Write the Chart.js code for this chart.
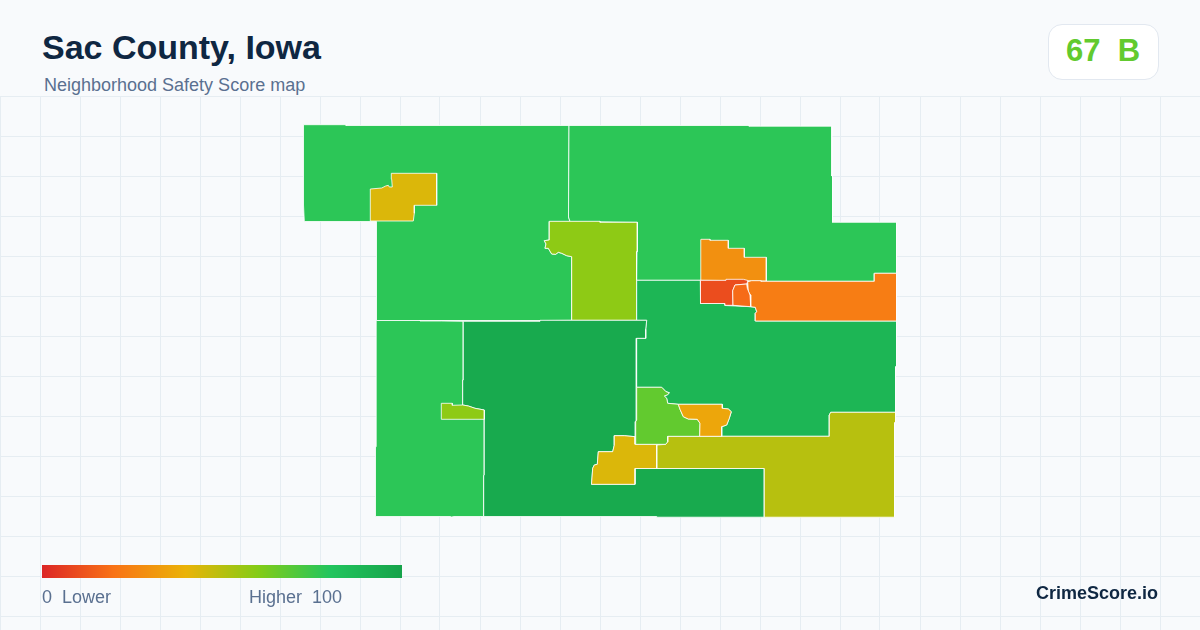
<!DOCTYPE html>
<html>
<head>
<meta charset="utf-8">
<title>Sac County, Iowa</title>
<script src="https://cdn.jsdelivr.net/npm/chart.js@4/dist/chart.umd.min.js"></script>
<style>
  html, body { margin: 0; padding: 0; }
  body { width: 1200px; height: 630px; position: relative; overflow: hidden; background: #f8fafc; font-family: "Liberation Sans", Arial, sans-serif; }
  #map { position: absolute; left: 0; top: 96px; }
  .txt { position: absolute; white-space: pre; line-height: 1; }
  #title { left: 42px; top: 30px; font-size: 34px; font-weight: 700; color: #0f2742; }
  #sub { left: 44px; top: 76px; font-size: 18px; color: #5a7090; }
  #badge { position: absolute; left: 1048px; top: 24px; width: 109px; height: 54px; background: #fff; border: 1px solid #e2e8f0; border-radius: 14px; }
  #score { left: 1066px; top: 35px; font-size: 31px; font-weight: 700; color: #62ca2f; word-spacing: 0; }
  #bar { position: absolute; left: 42px; top: 565px; width: 360px; height: 13px; background: linear-gradient(90deg, #dc2626 0%, #f97316 20%, #eab308 40%, #84cc16 60%, #22c55e 80%, #16a34a 100%); }
  #low { left: 42px; top: 588px; font-size: 18px; color: #5a7090; }
  #high { left: 249px; top: 588px; font-size: 18px; color: #5a7090; }
  #brand { left: 1036px; top: 584px; font-size: 18px; font-weight: 700; color: #0f2742; }
</style>
</head>
<body>
<canvas id="map" width="1200" height="534"></canvas>
<div class="txt" id="title">Sac County, Iowa</div>
<div class="txt" id="sub">Neighborhood Safety Score map</div>
<div id="badge"></div>
<div class="txt" id="score">67  B</div>
<div id="bar"></div>
<div class="txt" id="low">0  Lower</div>
<div class="txt" id="high">Higher  100</div>
<div class="txt" id="brand">CrimeScore.io</div>
<script>
// background grid
const gridX = [0,40,80,120,160,200,240,280,320,360,400,440,480,520,560,600,640,680,720,760,800,840,880,920,960,1000,1040,1080,1120,1160,1200]
const gridY = [96,136,176,216,256,296,336,376,416,456,496,536,576,616]

// legend colours, score -> colour
const scaleStops = [0,20,40,60,80,100]
const scaleColors = [[220,38,38],[249,115,22],[234,179,8],[132,204,22],[34,197,94],[22,163,74]]

// tract outlines, bottom layer first
const northwest = [[303.5,124.7],[346,124.7],[346,125.5],[569,125.5],[568.5,217],[570,221.5],[549.3,221.5],[549.3,240],[544.3,240.7],[546,244],[545,248.3],[548.3,248.3],[551.7,254],[555.7,254.3],[558.3,252.3],[561.7,253.3],[566.7,255.7],[571.7,256.7],[571.7,320.3],[540,320.5],[376.5,320.5],[376.5,221.5],[304.3,221.5],[303.5,205]]
const northeast = [[569,125.5],[749,125.5],[749,126.2],[831.8,126.2],[831.8,176],[832.5,176],[832.5,222.3],[896.5,222.3],[896.5,273.3],[874.3,273.3],[874.3,281.3],[766.5,281.3],[700.3,280.3],[636.7,280.3],[637.3,222.3],[570,221.5],[568.5,217]]
const north = [[549.3,221.3],[600,221.3],[600,222.3],[637.3,222.3],[637.3,251.7],[636.5,251.7],[636.5,320.3],[571.7,320.3],[571.7,256.7],[566.7,255.7],[561.7,253.3],[558.3,252.3],[555.7,254.3],[551.7,254],[548.3,248.3],[545,248.3],[546,244],[544.3,240.7],[549.3,240]]
const northGold = [[370.3,189],[381.7,188],[385.7,186],[388.3,185.3],[389.3,187],[392.3,187],[391.7,179.3],[391.3,173.3],[436.7,173.3],[436.7,205.3],[414.3,205.3],[414.3,213.3],[413.3,221],[370.3,221]]
const east = [[636.7,280.3],[700.3,280.3],[700.5,303.5],[725,303.5],[725,305.5],[750.7,306.7],[755.3,307.3],[756.7,311.7],[755.3,313.3],[755.3,321],[896.5,321],[896.5,366.7],[895.5,366.7],[895.5,412.3],[830.7,412.3],[829.3,415],[829.3,436.3],[721.7,436.3],[721.7,426.7],[726.7,425],[729.3,418.3],[731.3,411.7],[728.3,409],[722.3,408.3],[722.3,404.3],[678.3,404.3],[667.7,403.3],[666.7,398.3],[664.3,396],[667.7,394.7],[669.3,392.7],[666,391.7],[661.7,387.3],[636.7,387.3],[636.7,338.3],[645.7,338.3],[645.7,329.3],[646.7,320.3],[636.7,320.3]]
const west = [[376.2,320.5],[420,320.5],[420,321],[441.7,321],[463.3,321.3],[463.3,380],[462.7,380],[462.7,405],[468.3,406],[475,408.3],[484.3,410],[484.3,475],[483.7,475.7],[483.7,516.5],[454,516.5],[451.7,517],[450,516.5],[375.5,516.5],[375.5,446.7],[376.2,446.7]]
const center = [[463.3,321.3],[540,321.3],[540,320.3],[646.7,320.3],[645.7,329.3],[645.7,338.3],[636.3,338.3],[636.3,387.3],[636.3,420],[635.3,421.7],[635.3,436.7],[624.3,435.7],[614.3,435.7],[614.3,445],[612.7,451.7],[598.3,451.7],[597.3,464.3],[594.3,465],[592.7,468.3],[591.5,484.3],[635,484.3],[635,468.5],[764.3,468.5],[764.3,517.2],[656.7,517.2],[656.7,516.5],[483.7,516.5],[483.7,475.7],[484.3,475],[484.3,410],[475,408.3],[468.3,406],[462.7,405],[462.7,380],[463.3,380]]
const southOlive = [[656.7,468.5],[656.7,445],[665.7,444.3],[667.7,441.7],[667.7,436.3],[829.3,436.3],[829.3,415],[830.7,412.3],[895.5,412.3],[895.5,422.7],[894.5,422.7],[894.5,517.2],[764.3,517.2],[764.3,468.5]]
const southGold = [[614.3,435.7],[624.3,435.7],[635,436.7],[635,444.3],[656.7,444.3],[656.7,468.5],[635,468.5],[635,484.3],[591.5,484.3],[592.7,468.3],[594.3,465],[597.3,464.3],[598.3,451.7],[612.7,451.7],[614.3,445]]
const westLime = [[441.3,403.3],[452.3,403.3],[452.3,405.3],[462.7,405],[468.3,406],[475,408.3],[484.3,410],[484.3,419.3],[441.3,419.3]]
const townGreen = [[636.7,387.3],[661.7,387.3],[666,391.7],[669.3,392.7],[667.7,394.7],[664.3,396],[666.7,398.3],[667.7,403.3],[678.3,404.3],[680,409.3],[683.3,416.7],[688.3,419],[697.3,419.3],[700,423.3],[699.7,436.3],[667.7,436.3],[667.7,441.7],[665.7,444.3],[635.7,444.3],[635.7,421.7],[636.7,420]]
const townAmber = [[678.3,404.3],[722.3,404.3],[722.3,408.3],[728.3,409],[731.3,411.7],[729.3,418.3],[726.7,425],[721.7,426.7],[721.7,436.3],[699.7,436.3],[700,423.3],[697.3,419.3],[688.3,419],[683.3,416.7],[680,409.3]]
const cityTop = [[701,239.3],[710,239.3],[710,240.3],[728.3,240.3],[728.3,248.3],[744.3,248.3],[744.3,257.3],[766.3,257.3],[766.3,281],[700.3,280.3],[700.3,260],[701,260]]
const cityEast = [[747.7,281.7],[751.7,280.7],[761,280.7],[761,281.3],[874.3,281.3],[874.3,273.3],[896.5,273.3],[896.5,321],[755.3,321],[755.3,313.3],[756.7,311.7],[755.3,307.3],[750.7,306.7],[750.7,295],[748.3,291.7]]
const cityRed = [[700.5,280.3],[726,280.3],[726,279.3],[743.3,279.3],[748,280.5],[746.7,284],[735,285],[732.7,290.7],[733,305.3],[725,305.3],[725,303.5],[700.5,303.5]]
const cityCore = [[732.7,290.7],[735,285],[746.7,284],[747.3,288.3],[750,295],[750.7,306.7],[733,305.3]]

const outlines = [northwest, northeast, north, northGold, east, west, center, southOlive, southGold, westLime, townGreen, townAmber, cityTop, cityEast, cityRed, cityCore]
const scores = [78, 78, 58, 43, 89, 78, 96, 50, 43, 58, 67, 36, 29, 23, 10, 18]

const scoreColor = (s) => {
    let i = 0
    while (i < scaleStops.length - 2 && s > scaleStops[i + 1]) i++
    const t = (s - scaleStops[i]) / (scaleStops[i + 1] - scaleStops[i])
    const c = scaleColors[i].map((v, k) => Math.round(v + (scaleColors[i + 1][k] - v) * t))
    return `rgb(${c[0]}, ${c[1]}, ${c[2]})`
}

const datasets = outlines.map((shape, i) => {
    const closed = shape.concat([shape[0]])
    return {
        label: `Tract ${i + 1}`,
        data: closed.map((p) => ({ x: p[0], y: p[1] })),
        showLine: true,
        fill: 'shape',
        backgroundColor: scoreColor(scores[i]),
        borderColor: 'rgba(255, 255, 255, 0.9)',
        borderWidth: 0.9,
        pointRadius: 0,
        pointHitRadius: 0,
        tension: 0,
        order: outlines.length - i
    }
})

const gridColor = '#e6edf2'

new Chart(document.getElementById('map'), {
    type: 'scatter',
    data: { datasets: datasets },
    options: {
        responsive: false,
        animation: false,
        layout: { padding: 0 },
        plugins: { legend: { display: false }, tooltip: { enabled: false } },
        scales: {
            x: {
                type: 'linear', min: 0, max: 1200,
                border: { display: false },
                grid: { color: gridColor, lineWidth: 1, drawTicks: false },
                ticks: { display: false },
                afterBuildTicks: (scale) => { scale.ticks = gridX.map((v) => ({ value: v })) }
            },
            y: {
                type: 'linear', min: 96, max: 630, reverse: true,
                border: { display: false },
                grid: { color: gridColor, lineWidth: 1, drawTicks: false },
                ticks: { display: false },
                afterBuildTicks: (scale) => { scale.ticks = gridY.map((v) => ({ value: v })) }
            }
        }
    }
})
</script>
</body>
</html>
